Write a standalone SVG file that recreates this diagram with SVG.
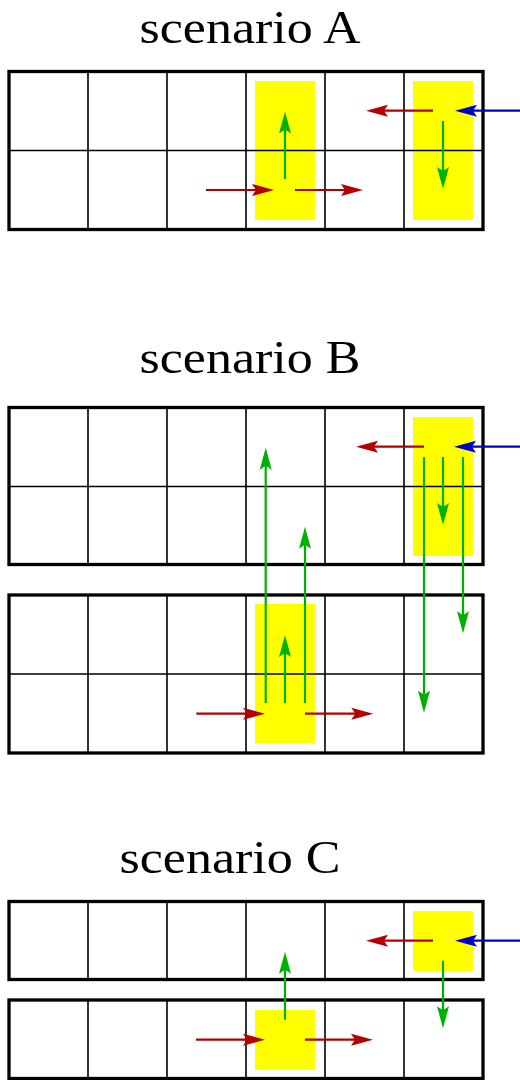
<svg xmlns="http://www.w3.org/2000/svg" width="520" height="1080" viewBox="0 0 520 1080">
<style>
.title{font-family:"Liberation Serif","Times New Roman",serif;font-size:46px;fill:#000}
.outer{fill:none;stroke:#000;stroke-width:3.3}
.inner{stroke:#000;stroke-width:1.6;fill:none}
.hl{fill:#ffff00}
.r{stroke:#b40000;stroke-width:2.2;fill:none;marker-end:url(#ar)}
.g{stroke:#00b000;stroke-width:2.2;fill:none;marker-end:url(#ag)}
.b{stroke:#0000d2;stroke-width:2.2;fill:none;marker-end:url(#ab)}
</style>
<defs>
<marker id="ar" markerUnits="userSpaceOnUse" markerWidth="24" markerHeight="12" refX="12" refY="6" orient="auto" overflow="visible"><path d="M0,0 L22,6 L0,12 L4,6 z" fill="#b40000"/></marker>
<marker id="ag" markerUnits="userSpaceOnUse" markerWidth="24" markerHeight="12" refX="12" refY="6" orient="auto" overflow="visible"><path d="M0,0 L22,6 L0,12 L4,6 z" fill="#00b000"/></marker>
<marker id="ab" markerUnits="userSpaceOnUse" markerWidth="24" markerHeight="12" refX="12" refY="6" orient="auto" overflow="visible"><path d="M0,0 L22,6 L0,12 L4,6 z" fill="#0000d2"/></marker>
</defs>
<rect width="520" height="1080" fill="#fff"/>

<g id="scenarioA">
<text class="title" x="139.5" y="42.5" textLength="221" lengthAdjust="spacingAndGlyphs">scenario A</text>
<rect class="hl" x="255" y="81" width="60" height="139"/>
<rect class="hl" x="413" y="81" width="60" height="139"/>
<path class="inner" d="M88,71.5V229.5M167,71.5V229.5M246,71.5V229.5M325,71.5V229.5M404,71.5V229.5M9,150.5H483"/>
<rect class="outer" x="9" y="71.5" width="474" height="158"/>
</g>

<g id="scenarioB">
<text class="title" x="139.5" y="372.5" textLength="221" lengthAdjust="spacingAndGlyphs">scenario B</text>
<rect class="hl" x="413" y="417" width="60" height="139"/>
<path class="inner" d="M88,407.5V565M167,407.5V565M246,407.5V565M325,407.5V565M404,407.5V565M9,486.5H483"/>
<rect class="outer" x="9" y="407.5" width="474" height="157"/>
<rect class="hl" x="255" y="604" width="60" height="139.5"/>
<path class="inner" d="M88,595V753M167,595V753M246,595V753M325,595V753M404,595V753M9,674H483"/>
<rect class="outer" x="9" y="595" width="474" height="158"/>
</g>

<g id="scenarioC">
<text class="title" x="119.5" y="872.5" textLength="221" lengthAdjust="spacingAndGlyphs">scenario C</text>
<rect class="hl" x="413" y="911" width="60" height="60"/>
<path class="inner" d="M88,901.5V979.5M167,901.5V979.5M246,901.5V979.5M325,901.5V979.5M404,901.5V979.5"/>
<rect class="outer" x="9" y="901.5" width="474" height="78"/>
<rect class="hl" x="255" y="1010" width="60" height="60"/>
<path class="inner" d="M88,1000V1078.5M167,1000V1078.5M246,1000V1078.5M325,1000V1078.5M404,1000V1078.5"/>
<rect class="outer" x="9" y="1000" width="474" height="78.5"/>
</g>

<g id="connectors">
<!-- A -->
<line class="g" x1="285" y1="179" x2="285" y2="121.5"/>
<line class="r" x1="206" y1="190" x2="264" y2="190"/>
<line class="r" x1="295" y1="190" x2="353" y2="190"/>
<line class="r" x1="433" y1="110.7" x2="376" y2="110.7"/>
<line class="b" x1="520" y1="110.7" x2="465" y2="110.7"/>
<line class="g" x1="443" y1="121" x2="443" y2="179"/>
<!-- B -->
<line class="r" x1="424" y1="446.7" x2="366" y2="446.7"/>
<line class="b" x1="520" y1="446.7" x2="464" y2="446.7"/>
<line class="g" x1="443" y1="457" x2="443" y2="515"/>
<line class="g" x1="424" y1="457" x2="424" y2="702.7"/>
<line class="g" x1="463" y1="457" x2="463" y2="623.3"/>
<line class="g" x1="265.7" y1="703" x2="265.7" y2="457.7"/>
<line class="g" x1="305" y1="703" x2="305" y2="536.7"/>
<line class="g" x1="285" y1="703" x2="285" y2="645"/>
<line class="r" x1="196.3" y1="713.7" x2="255" y2="713.7"/>
<line class="r" x1="305" y1="713.7" x2="363.3" y2="713.7"/>
<!-- C -->
<line class="r" x1="433" y1="940.7" x2="376" y2="940.7"/>
<line class="b" x1="520" y1="940.7" x2="465" y2="940.7"/>
<line class="g" x1="443" y1="960.7" x2="443" y2="1018.3"/>
<line class="g" x1="285" y1="1019.7" x2="285" y2="961.7"/>
<line class="r" x1="196" y1="1039.7" x2="255" y2="1039.7"/>
<line class="r" x1="305" y1="1039.7" x2="363" y2="1039.7"/>
</g>
</svg>
